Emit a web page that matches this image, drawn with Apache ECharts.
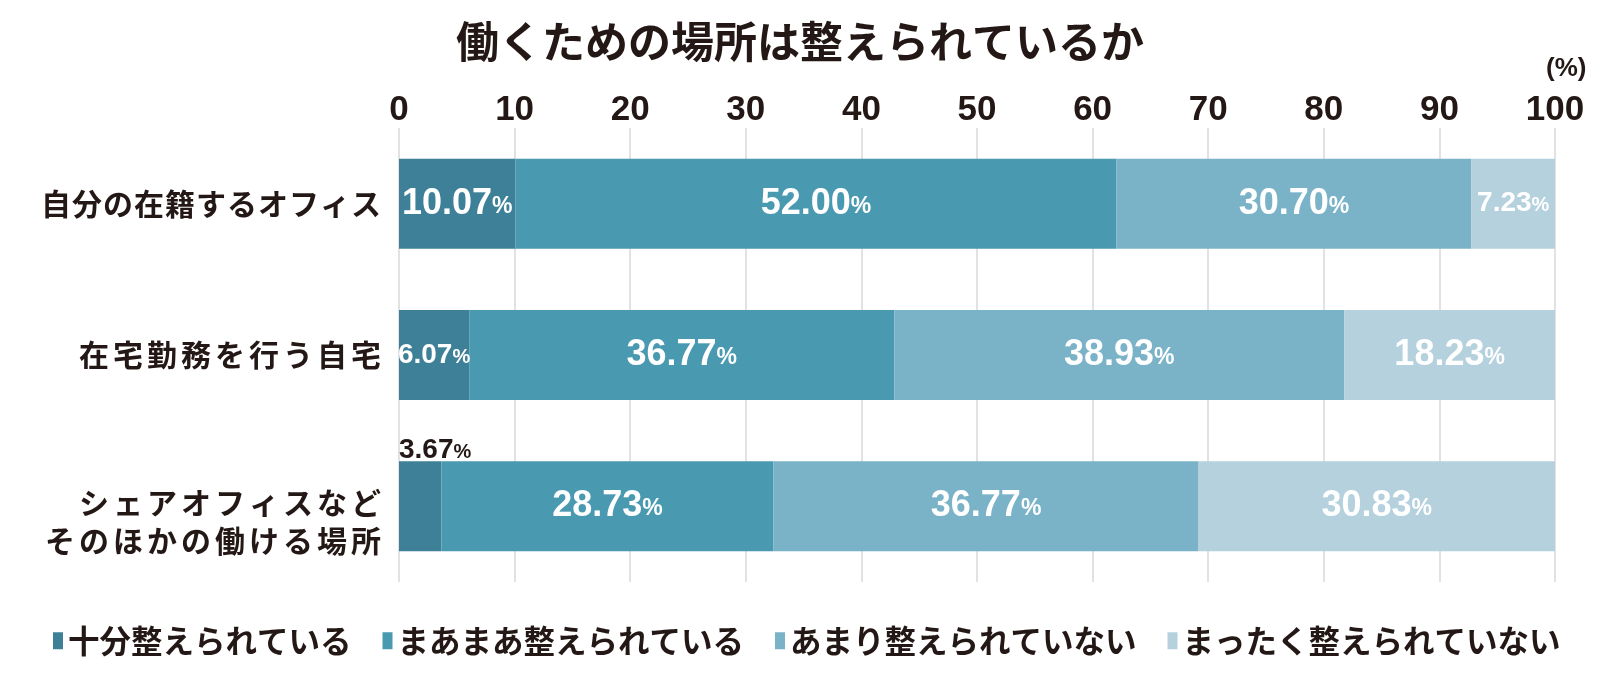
<!DOCTYPE html>
<html>
<head>
<meta charset="utf-8">
<script src="https://cdn.jsdelivr.net/npm/echarts@6/dist/echarts.min.js"></script>
<style>
html,body{margin:0;padding:0;background:#fff;}
#chart{width:1616px;height:688px;}
</style>
</head>
<body>
<div id="chart"></div>
<script>
const titleText = '働くための場所は整えられているか';
const categories = ['自分の在籍するオフィス', '在宅勤務を行う自宅', 'シェアオフィスなど\nそのほかの働ける場所'];
const seriesNames = ['十分整えられている', 'まあまあ整えられている', 'あまり整えられていない', 'まったく整えられていない'];
const sufficient = [10.07, 6.07, 3.67];
const fairly = [52.00, 36.77, 28.73];
const notMuch = [30.70, 38.93, 36.77];
const notAtAll = [7.23, 18.23, 30.83];
const xTicks = [0, 10, 20, 30, 40, 50, 60, 70, 80, 90, 100];
const unitLabel = '(%)';

const colors = ['#3d8097', '#4999b1', '#7ab3c8', '#b4d1dd'];
const ink = '#231815';
const jp = '"Noto Sans CJK JP", "Noto Sans", sans-serif';
const num = '"Liberation Sans", Arial, sans-serif';

const values = [sufficient, fairly, notMuch, notAtAll];

// letter spacing per category row (style only)
const rowSpacing = [1, 4, 4];

function makeData(arr) {
  return arr.map(function (v) {
    const item = { value: v };
    if (v < 4) {
      item.label = {
        position: [0, 3], align: 'left', verticalAlign: 'bottom',
        formatter: function (p) { return '{sd|' + p.value.toFixed(2) + '}{sp|%}'; },
        rich: {
          sd: { fontSize: 28, fontWeight: 'bold', color: ink, fontFamily: num },
          sp: { fontSize: 20, fontWeight: 'bold', color: ink, fontFamily: num, padding: [4, 0, 0, 0] }
        }
      };
    } else if (v < 8) {
      item.label = {
        formatter: function (p) { return '{s|' + p.value.toFixed(2) + '}{sp|%}'; }
      };
    }
    return item;
  });
}

const series = seriesNames.map(function (name, si) {
  return {
    name: name,
    type: 'bar',
    stack: 'total',
    barWidth: 90,
    itemStyle: { color: colors[si] },
    label: {
      show: true,
      position: 'inside',
      formatter: function (p) { return '{n|' + p.value.toFixed(2) + '}{p|%}'; },
      rich: {
        n: { fontSize: 36, fontWeight: 'bold', color: '#fff', fontFamily: num },
        p: { fontSize: 23, fontWeight: 'bold', color: '#fff', fontFamily: num, padding: [5, 0, 0, 0] },
        s: { fontSize: 28, fontWeight: 'bold', color: '#fff', fontFamily: num },
        sp: { fontSize: 20, fontWeight: 'bold', color: '#fff', fontFamily: num, padding: [4, 0, 0, 0] }
      }
    },
    emphasis: { disabled: true },
    data: makeData(values[si])
  };
});

// rich styles for spaced category labels
const catRich = {};
const catFont = { fontSize: 30, fontWeight: 'bold', color: ink, fontFamily: jp };
rowSpacing.forEach(function (s, r) {
  catRich['f' + r] = Object.assign({}, catFont);
  catRich['c' + r] = Object.assign({ padding: [0, 0, 0, s] }, catFont);
  catRich['fa' + r] = Object.assign({ lineHeight: 68 }, catFont);
  catRich['ca' + r] = Object.assign({ lineHeight: 68, padding: [0, 0, 0, s] }, catFont);
  catRich['fb' + r] = Object.assign({ lineHeight: 8 }, catFont);
  catRich['cb' + r] = Object.assign({ lineHeight: 8, padding: [0, 0, 0, s] }, catFont);
});

function spacedLabel(text, idx) {
  const lines = text.split('\n');
  return lines.map(function (line, li) {
    let suffix = '';
    if (lines.length > 1) suffix = li === 0 ? 'a' : 'b';
    return Array.from(line).map(function (ch, ci) {
      return '{' + (ci === 0 ? 'f' : 'c') + suffix + idx + '|' + ch + '}';
    }).join('');
  }).join('\n');
}

const chart = echarts.init(document.getElementById('chart'));
chart.setOption({
  backgroundColor: '#fff',
  animation: false,
  title: [{
    text: titleText,
    left: 451,
    top: 15,
    textStyle: { fontSize: 43, fontWeight: 'bold', color: ink, fontFamily: jp }
  }, {
    text: unitLabel,
    left: 1546,
    top: 56,
    padding: 0,
    textStyle: { fontSize: 26, fontWeight: 'bold', color: ink, fontFamily: num }
  }],
  legend: {
    left: 48,
    top: 620,
    itemWidth: 10,
    itemHeight: 17,
    itemGap: 31,
    icon: 'rect',
    data: seriesNames,
    textStyle: { fontSize: 31.5, fontWeight: 'bold', color: ink, fontFamily: jp }
  },
  grid: { left: 399, right: 61, top: 128, bottom: 106, containLabel: false, outerBoundsMode: 'none' },
  xAxis: {
    type: 'value',
    position: 'top',
    min: xTicks[0],
    max: xTicks[xTicks.length - 1],
    interval: xTicks[1] - xTicks[0],
    axisLine: { show: false },
    axisTick: { show: false },
    axisLabel: { margin: 0, fontSize: 35, fontWeight: 'bold', color: ink, fontFamily: num },
    splitLine: { show: true, lineStyle: { color: '#d9d9d9', width: 1.5 } }
  },
  yAxis: {
    type: 'category',
    inverse: true,
    data: categories,
    axisLine: { show: false },
    axisTick: { show: false },
    axisLabel: {
      margin: 18,
      fontSize: 30, fontWeight: 'bold', color: ink, fontFamily: jp,
      formatter: function (value, idx) { return spacedLabel(value, idx); },
      rich: catRich
    }
  },
  series: series
});
</script>
</body>
</html>
